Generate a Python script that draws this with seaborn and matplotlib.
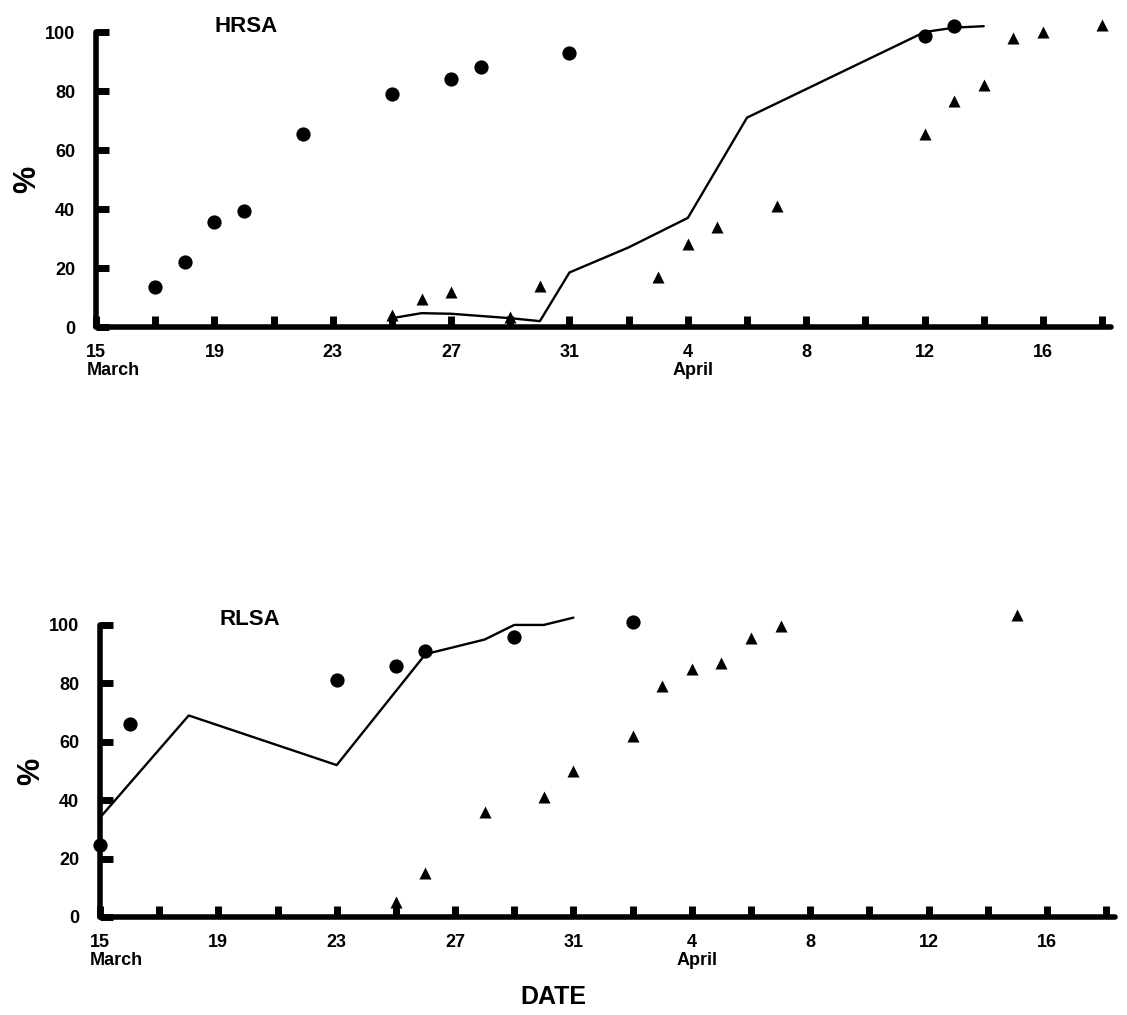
import numpy as np
import pandas as pd
import matplotlib
matplotlib.use("Agg")
import matplotlib.pyplot as plt
import seaborn as sns

# days counted from 1 March (April d -> 31 + d)
hrsa_circle_day = [17, 18, 19, 20, 22, 25, 27, 28, 31, 43, 44]
hrsa_circle_pct = [13.5, 22, 35.5, 39.5, 65.5, 79, 84, 88, 93, 98.5, 102]
hrsa_tri_day = [25, 26, 27, 29, 30, 34, 35, 36, 38, 43, 44, 45, 46, 47, 49]
hrsa_tri_pct = [4, 9.5, 12, 3.5, 14, 17, 28, 34, 41, 65.5, 76.5, 82, 98, 100, 102.5]
hrsa_line_day = [25, 26, 27, 29, 30, 31, 33, 35, 37, 43, 44, 45]
hrsa_line_pct = [3, 4.7, 4.5, 3, 2, 18.5, 27, 37, 71, 100, 101.5, 102]

rlsa_circle_day = [15, 16, 23, 25, 26, 29, 33]
rlsa_circle_pct = [24.5, 66, 81, 86, 91, 96, 101]
rlsa_tri_day = [25, 26, 28, 30, 31, 33, 34, 35, 36, 37, 38, 46]
rlsa_tri_pct = [5, 15, 36, 41, 50, 62, 79, 85, 87, 95.5, 99.5, 103.5]
rlsa_line_day = [15, 18, 23, 26, 28, 29, 30, 31]
rlsa_line_pct = [34, 69, 52, 90, 95, 100, 100, 102.5]

tick_days = list(range(15, 50, 2))
label_days = {15: "15", 19: "19", 23: "23", 27: "27", 31: "31",
              35: "4", 39: "8", 43: "12", 47: "16"}
y_ticks = [0, 20, 40, 60, 80, 100]
month_labels = [(15, "March", "left", -7), (35, "April", "center", 4)]

sns.set_style("white")
plt.rcParams["font.family"] = ["Liberation Sans", "DejaVu Sans"]
plt.rcParams["font.weight"] = "bold"
plt.rcParams["text.color"] = "black"

fig = plt.figure(figsize=(11.27, 10.15), dpi=100)
ax_top = fig.add_axes([0.0852, 0.6778, 0.9006, 0.2906])
ax_bot = fig.add_axes([0.0887, 0.0966, 0.9006, 0.2877])


def draw_panel(ax, title, c_day, c_pct, t_day, t_pct, l_day, l_pct):
    line_df = pd.DataFrame({"day": l_day, "pct": l_pct})
    sns.lineplot(data=line_df, x="day", y="pct", ax=ax, color="black",
                 linewidth=1.7, sort=False, clip_on=False)
    circ_df = pd.DataFrame({"day": c_day, "pct": c_pct})
    sns.scatterplot(data=circ_df, x="day", y="pct", ax=ax, marker="o", s=105,
                    color="black", linewidth=0, clip_on=False, zorder=5)
    tri_df = pd.DataFrame({"day": t_day, "pct": t_pct})
    sns.scatterplot(data=tri_df, x="day", y="pct", ax=ax, marker="^", s=75,
                    color="black", linewidth=0, clip_on=False, zorder=5)

    ax.set_xlim(15, 49.3)
    ax.set_ylim(0, 100)
    sns.despine(ax=ax)
    for side in ["left", "bottom"]:
        ax.spines[side].set_linewidth(4)
        ax.spines[side].set_color("black")
        ax.spines[side].set_capstyle("round")

    ax.set_xticks(tick_days)
    ax.set_xticklabels([label_days.get(d, "") for d in tick_days])
    ax.set_yticks(y_ticks)
    ax.set_yticklabels([str(v) for v in y_ticks])
    ax.tick_params(axis="x", bottom=True, direction="in", length=8, width=5,
                   color="black", labelcolor="black", labelsize=13, pad=12)
    ax.tick_params(axis="y", left=True, direction="in", length=9, width=5,
                   color="black", labelcolor="black", labelsize=13, pad=15)
    for lab in ax.get_xticklabels() + ax.get_yticklabels():
        lab.set_fontweight("bold")

    ax.set_xlabel("")
    ax.set_ylabel("")
    ax.text(-0.068, 0.5, "%", transform=ax.transAxes, rotation=90,
            ha="center", va="center", fontsize=22, fontweight="bold")
    ax.text(0.148, 1.0, title, transform=ax.transAxes, ha="center",
            va="baseline", fontsize=16, fontweight="bold")
    for day, name, ha, dx in month_labels:
        ax.annotate(name, xy=(day, 0), xycoords=("data", "axes fraction"),
                    xytext=(dx, -31), textcoords="offset points", ha=ha,
                    va="center", fontsize=13, fontweight="bold")


draw_panel(ax_top, "HRSA", hrsa_circle_day, hrsa_circle_pct, hrsa_tri_day,
           hrsa_tri_pct, hrsa_line_day, hrsa_line_pct)
draw_panel(ax_bot, "RLSA", rlsa_circle_day, rlsa_circle_pct, rlsa_tri_day,
           rlsa_tri_pct, rlsa_line_day, rlsa_line_pct)

fig.text(0.491, 0.0177, "DATE", ha="center", va="center", fontsize=18,
         fontweight="bold")

fig.savefig("out.png", dpi=100, facecolor="white")
